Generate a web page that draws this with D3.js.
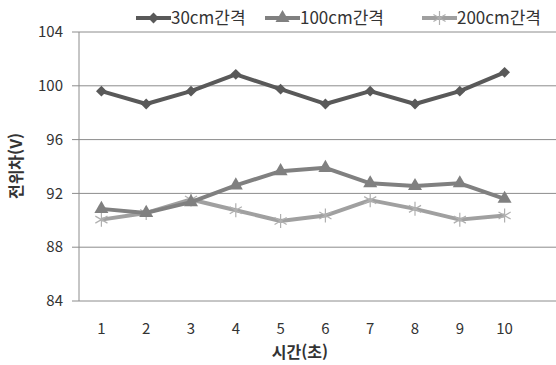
<!DOCTYPE html>
<html lang="ko">
<head>
    <meta charset="UTF-8">
    <title>전위차</title>
    <style>
        body { margin: 0; background: #fff; }
        text { font-family: "Noto Sans CJK KR", "Noto Sans", sans-serif; fill: #333; }
        .grid line { stroke: #8c8c8c; stroke-width: 1px; }
        .tick text { font-size: 15px; }
        .title { font-size: 16px; font-weight: bold; }
        .legend text { font-size: 17px; }
    </style>
    <script src="https://d3js.org/d3.v7.min.js"></script>
</head>
<body>
<script>
    // data
    const seconds = [1, 2, 3, 4, 5, 6, 7, 8, 9, 10];
    const yTicks = [84, 88, 92, 96, 100, 104];
    const s30 = [99.6, 98.65, 99.6, 100.85, 99.75, 98.65, 99.6, 98.65, 99.6, 101.0];
    const s100 = [90.85, 90.55, 91.35, 92.6, 93.65, 93.9, 92.75, 92.55, 92.75, 91.6];
    const s200 = [90.05, 90.55, 91.55, 90.75, 89.95, 90.35, 91.5, 90.85, 90.05, 90.35];
    const seriesNames = ["30cm간격", "100cm간격", "200cm간격"];

    const W = 556, H = 365;
    const plotL = 79, plotR = 527, plotT = 32, plotB = 301;

    const svg = d3.select("body").append("svg").attr("width", W).attr("height", H);

    const x = d3.scaleBand().domain(seconds).range([plotL, plotR]);
    const y = d3.scaleLinear().domain([84, 104]).range([plotB, plotT]);

    // horizontal gridlines + y axis line
    const grid = svg.append("g").attr("class", "grid");
    grid.selectAll("line.h").data(yTicks).enter().append("line")
        .attr("x1", plotL - 7).attr("x2", W)
        .attr("y1", d => y(d)).attr("y2", d => y(d));
    grid.append("line")
        .attr("x1", plotL).attr("x2", plotL).attr("y1", plotT).attr("y2", plotB);

    svg.append("g").attr("class", "tick").selectAll("text").data(yTicks).enter().append("text")
        .attr("x", 63).attr("y", d => y(d)).attr("dy", "0.35em")
        .attr("text-anchor", "end").text(d => d);

    svg.append("g").attr("class", "tick").selectAll("text").data(seconds).enter().append("text")
        .attr("x", d => x(d) + x.bandwidth() / 2).attr("y", 334)
        .attr("text-anchor", "middle").text(d => d);

    svg.append("text").attr("class", "title")
        .attr("x", 300).attr("y", 358).attr("text-anchor", "middle").text("시간(초)");
    svg.append("text").attr("class", "title")
        .attr("transform", "translate(22,166) rotate(-90)")
        .attr("text-anchor", "middle").text("전위차(V)");

    const cx = d => x(d) + x.bandwidth() / 2;
    const line = d3.line().x((d, i) => cx(seconds[i])).y(d => y(d));

    const styles = [
        { data: s30, color: "#595959", sym: d3.symbolDiamond2, size: 75, w: 4 },
        { data: s100, color: "#808080", sym: d3.symbolTriangle, size: 85, w: 4 },
        { data: s200, color: "#a0a0a0", sym: null, size: 0, w: 4 }
    ];

    // six-armed star like the spreadsheet marker
    function star(r) {
        let p = "";
        for (let k = 0; k < 3; k++) {
            const a = Math.PI / 2 + k * Math.PI / 3;
            p += `M${r * Math.cos(a)},${r * Math.sin(a)}L${-r * Math.cos(a)},${-r * Math.sin(a)}`;
        }
        return p;
    }

    function drawMarker(g, s, px, py) {
        if (!s.sym) {
            g.append("path").attr("d", star(7))
                .attr("transform", `translate(${px},${py})`)
                .attr("stroke", "#b0b0b0").attr("stroke-width", 1.2).attr("fill", "none");
        } else {
            g.append("path").attr("d", d3.symbol(s.sym, s.size)())
                .attr("transform", `translate(${px},${py})`)
                .attr("fill", s.color);
        }
    }

    styles.slice().reverse().forEach(s => {
        const g = svg.append("g");
        g.append("path").datum(s.data).attr("d", line)
            .attr("fill", "none").attr("stroke", s.color).attr("stroke-width", s.w)
            .attr("stroke-linejoin", "round");
        s.data.forEach((v, i) => drawMarker(g, s, cx(seconds[i]), y(v)));
    });

    // legend
    const legendX = [136, 265, 422];
    const lg = svg.append("g").attr("class", "legend");
    styles.forEach((s, i) => {
        const lx = legendX[i];
        lg.append("line").attr("x1", lx).attr("x2", lx + 35).attr("y1", 18).attr("y2", 18)
            .attr("stroke", s.color).attr("stroke-width", s.w);
        drawMarker(lg, s, lx + 17.5, 18);
        lg.append("text").attr("x", lx + 35).attr("y", 18).attr("dy", "0.36em")
            .text(seriesNames[i]);
    });
</script>
</body>
</html>
